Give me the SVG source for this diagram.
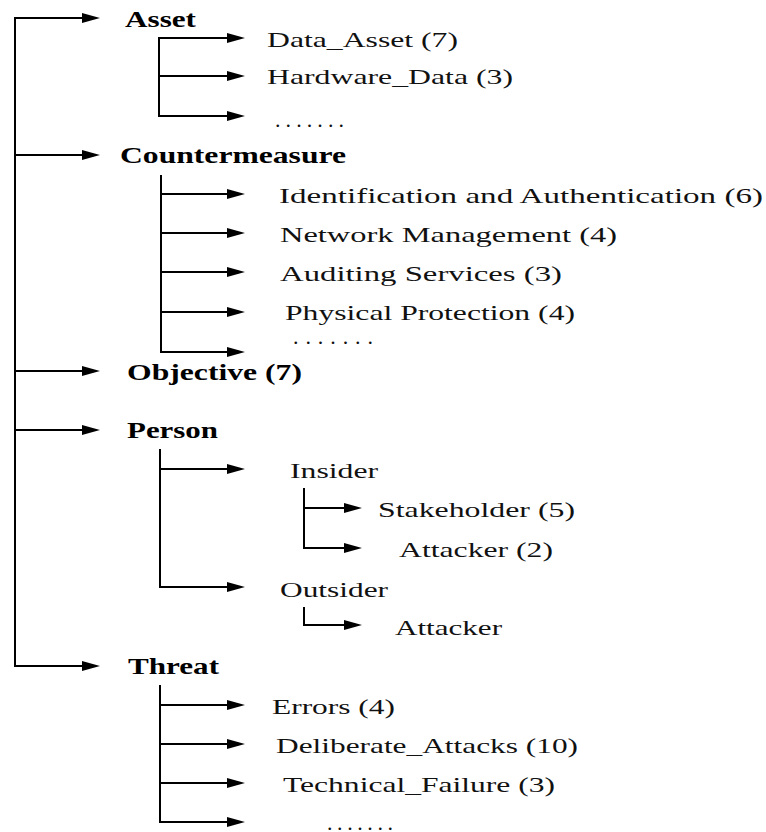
<svg xmlns="http://www.w3.org/2000/svg" width="766" height="832" viewBox="0 0 766 832">
  <style>
    .bg { fill: #ffffff; }
    .ln { stroke: #000; stroke-width: 2; fill: none; }
    .arr { stroke: #000; stroke-width: 2; fill: none; marker-end: url(#head); }
    text { font-family: 'Liberation Serif', Tinos, 'Times New Roman', Times, serif; fill: #111; }
    .cat { font-size: 23px; font-weight: bold; fill: #000; }
    .item { font-size: 22px; }
  </style>
  <defs>
    <marker id="head" markerUnits="userSpaceOnUse" markerWidth="18" markerHeight="10" refX="14" refY="5" orient="auto">
      <path d="M0,0 L18,5 L0,10 Z" fill="#000"/>
    </marker>
  </defs>
  <rect class="bg" x="0" y="0" width="766" height="832"/>

  <!-- connectors -->
  <g id="connectors">
    <!-- root trunk -->
    <line class="ln" x1="15" y1="17" x2="15" y2="667"/>
    <line class="arr" x1="14" y1="18" x2="96" y2="18"/>
    <line class="arr" x1="14" y1="155" x2="96" y2="155"/>
    <line class="arr" x1="14" y1="371" x2="96" y2="371"/>
    <line class="arr" x1="14" y1="430" x2="96" y2="430"/>
    <line class="arr" x1="14" y1="666" x2="96" y2="666"/>

    <!-- Asset branch -->
    <line class="ln" x1="159" y1="37" x2="159" y2="117"/>
    <line class="arr" x1="158" y1="38" x2="241" y2="38"/>
    <line class="arr" x1="158" y1="76" x2="241" y2="76"/>
    <line class="arr" x1="158" y1="116" x2="241" y2="116"/>

    <!-- Countermeasure branch -->
    <line class="ln" x1="161" y1="175" x2="161" y2="353"/>
    <line class="arr" x1="160" y1="194" x2="241" y2="194"/>
    <line class="arr" x1="160" y1="233" x2="241" y2="233"/>
    <line class="arr" x1="160" y1="272" x2="241" y2="272"/>
    <line class="arr" x1="160" y1="312" x2="241" y2="312"/>
    <line class="arr" x1="160" y1="352" x2="241" y2="352"/>

    <!-- Person branch -->
    <line class="ln" x1="160" y1="449" x2="160" y2="588"/>
    <line class="arr" x1="159" y1="469" x2="241" y2="469"/>
    <line class="arr" x1="159" y1="587" x2="241" y2="587"/>
    <line class="ln" x1="304" y1="488" x2="304" y2="549"/>
    <line class="arr" x1="303" y1="508" x2="358" y2="508"/>
    <line class="arr" x1="303" y1="548" x2="358" y2="548"/>
    <line class="ln" x1="304" y1="607" x2="304" y2="626"/>
    <line class="arr" x1="303" y1="625" x2="358" y2="625"/>

    <!-- Threat branch -->
    <line class="ln" x1="160" y1="685" x2="160" y2="823"/>
    <line class="arr" x1="159" y1="705" x2="241" y2="705"/>
    <line class="arr" x1="159" y1="744" x2="241" y2="744"/>
    <line class="arr" x1="159" y1="783" x2="241" y2="783"/>
    <line class="arr" x1="159" y1="822" x2="241" y2="822"/>
  </g>

  <!-- top-level categories -->
  <g id="asset"><text class="cat" x="125" y="27" textLength="71" lengthAdjust="spacingAndGlyphs">Asset</text></g>
  <g id="countermeasure"><text class="cat" x="120" y="163" textLength="226" lengthAdjust="spacingAndGlyphs">Countermeasure</text></g>
  <g id="objective"><text class="cat" x="127" y="380" textLength="175" lengthAdjust="spacingAndGlyphs">Objective (7)</text></g>
  <g id="person"><text class="cat" x="127" y="438" textLength="91" lengthAdjust="spacingAndGlyphs">Person</text></g>
  <g id="threat"><text class="cat" x="128" y="674" textLength="91" lengthAdjust="spacingAndGlyphs">Threat</text></g>

  <!-- Asset children -->
  <g id="data-asset"><text class="item" x="267" y="47" textLength="191" lengthAdjust="spacingAndGlyphs">Data_Asset (7)</text></g>
  <g id="hardware-data"><text class="item" x="267" y="84" textLength="246" lengthAdjust="spacingAndGlyphs">Hardware_Data (3)</text></g>
  <g id="asset-more"><text class="item" x="275" y="127" textLength="69" lengthAdjust="spacing">.......</text></g>

  <!-- Countermeasure children -->
  <g id="ident-auth"><text class="item" x="279" y="203" textLength="484" lengthAdjust="spacingAndGlyphs">Identification  and  Authentication (6)</text></g>
  <g id="network-mgmt"><text class="item" x="280" y="242" textLength="337" lengthAdjust="spacingAndGlyphs">Network  Management (4)</text></g>
  <g id="auditing"><text class="item" x="280" y="281" textLength="282" lengthAdjust="spacingAndGlyphs">Auditing  Services (3)</text></g>
  <g id="physical"><text class="item" x="285" y="320" textLength="290" lengthAdjust="spacingAndGlyphs">Physical  Protection (4)</text></g>
  <g id="counter-more"><text class="item" x="293" y="344" textLength="80" lengthAdjust="spacing">.......</text></g>

  <!-- Person children -->
  <g id="insider"><text class="item" x="290" y="478" textLength="88" lengthAdjust="spacingAndGlyphs">Insider</text></g>
  <g id="stakeholder"><text class="item" x="378" y="517" textLength="197" lengthAdjust="spacingAndGlyphs">Stakeholder (5)</text></g>
  <g id="insider-attacker"><text class="item" x="399" y="557" textLength="154" lengthAdjust="spacingAndGlyphs">Attacker (2)</text></g>
  <g id="outsider"><text class="item" x="280" y="597" textLength="108" lengthAdjust="spacingAndGlyphs">Outsider</text></g>
  <g id="outsider-attacker"><text class="item" x="395" y="635" textLength="107" lengthAdjust="spacingAndGlyphs">Attacker</text></g>

  <!-- Threat children -->
  <g id="errors"><text class="item" x="272" y="714" textLength="123" lengthAdjust="spacingAndGlyphs">Errors (4)</text></g>
  <g id="deliberate"><text class="item" x="276" y="753" textLength="302" lengthAdjust="spacingAndGlyphs">Deliberate_Attacks (10)</text></g>
  <g id="technical"><text class="item" x="283" y="792" textLength="272" lengthAdjust="spacingAndGlyphs">Technical_Failure (3)</text></g>
  <g id="threat-more"><text class="item" x="327" y="830" textLength="66" lengthAdjust="spacing">.......</text></g>
</svg>
